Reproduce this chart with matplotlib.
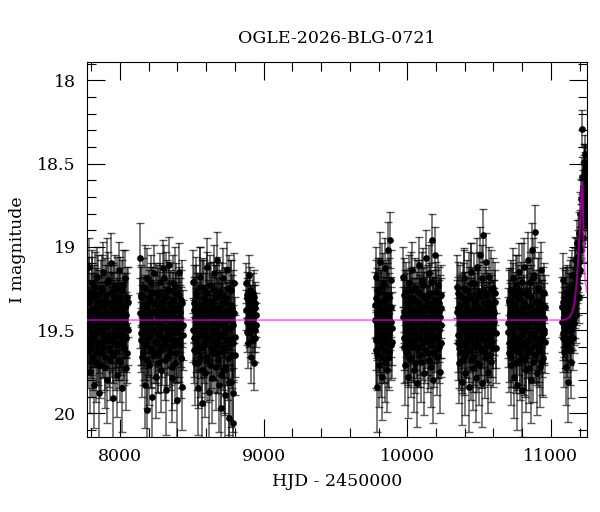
import matplotlib
matplotlib.use("Agg")
import matplotlib.pyplot as plt
from matplotlib.ticker import MultipleLocator

plt.rcParams['font.family'] = ['DejaVu Serif']

title = "OGLE-2026-BLG-0721"

# season 1 (two frames per night: mag_1 and mag_1b share times and errors)
hjd_1 = [7772, 7777, 7781, 7786, 7790, 7795, 7799, 7804, 7808, 7812,
         7817, 7821, 7826, 7830, 7835, 7839, 7843, 7848, 7852, 7857,
         7861, 7866, 7870, 7874, 7879, 7883, 7888, 7892, 7897, 7901,
         7905, 7910, 7914, 7919, 7923, 7928, 7932, 7936, 7941, 7945,
         7950, 7954, 7959, 7963, 7967, 7972, 7976, 7981, 7985, 7990,
         7994, 7998, 8003, 8007, 8012, 8016, 8021, 8025, 8030, 8034,
         8039, 8043, 8048, 8052]
mag_1 = [19.31, 19.62, 19.12, 19.48, 19.75, 19.39, 19.55, 19.22, 19.66, 19.44,
         19.83, 19.28, 19.51, 19.37, 19.70, 19.18, 19.46, 19.59, 19.33, 19.88,
         19.41, 19.25, 19.64, 19.50, 19.15, 19.57, 19.36, 19.72, 19.43, 19.29,
         19.53, 19.80, 19.20, 19.47, 19.61, 19.34, 19.68, 19.10, 19.45, 19.56,
         19.27, 19.91, 19.40, 19.63, 19.23, 19.52, 19.38, 19.77, 19.49, 19.14,
         19.58, 19.32, 19.69, 19.42, 19.26, 19.85, 19.54, 19.35, 19.60, 19.19,
         19.47, 19.73, 19.30, 19.50]
mag_1b = [19.45, 19.33, 19.58, 19.27, 19.49, 19.61, 19.38, 19.52, 19.30, 19.67,
          19.42, 19.55, 19.24, 19.47, 19.36, 19.63, 19.40, 19.29, 19.57, 19.44,
          19.71, 19.35, 19.50, 19.26, 19.60, 19.43, 19.53, 19.32, 19.66, 19.39,
          19.48, 19.21, 19.56, 19.41, 19.34, 19.62, 19.46, 19.28, 19.54, 19.37,
          19.65, 19.43, 19.31, 19.51, 19.40, 19.59, 19.25, 19.47, 19.35, 19.68,
          19.42, 19.53, 19.30, 19.57, 19.39, 19.48, 19.23, 19.61, 19.44, 19.36,
          19.55, 19.41, 19.64, 19.33]
err_1 = [0.19, 0.23, 0.17, 0.21, 0.25, 0.18, 0.22, 0.20, 0.24, 0.19,
         0.26, 0.17, 0.21, 0.20, 0.23, 0.18, 0.22, 0.24, 0.19, 0.27,
         0.20, 0.17, 0.23, 0.21, 0.18, 0.22, 0.19, 0.25, 0.20, 0.18,
         0.21, 0.26, 0.17, 0.20, 0.23, 0.19, 0.24, 0.18, 0.21, 0.22,
         0.17, 0.27, 0.20, 0.23, 0.18, 0.21, 0.19, 0.25, 0.20, 0.17,
         0.22, 0.19, 0.24, 0.20, 0.18, 0.26, 0.21, 0.19, 0.23, 0.17,
         0.20, 0.25, 0.18, 0.21]

# season 2
hjd_2 = [8139, 8144, 8148, 8153, 8158, 8162, 8167, 8172, 8177, 8181,
         8186, 8191, 8195, 8200, 8205, 8210, 8214, 8219, 8224, 8228,
         8233, 8238, 8243, 8247, 8252, 8257, 8261, 8266, 8271, 8276,
         8280, 8285, 8290, 8294, 8299, 8304, 8309, 8313, 8318, 8323,
         8327, 8332, 8337, 8342, 8346, 8351, 8356, 8360, 8365, 8370,
         8375, 8379, 8384, 8389, 8393, 8398, 8403, 8408, 8412, 8417,
         8422, 8426, 8431, 8436]
mag_2 = [19.07, 19.52, 19.30, 19.66, 19.41, 19.24, 19.58, 19.83, 19.36, 19.47,
         19.19, 19.98, 19.55, 19.33, 19.71, 19.44, 19.27, 19.62, 19.90, 19.39,
         19.50, 19.16, 19.57, 19.35, 19.78, 19.46, 19.29, 19.64, 19.42, 19.21,
         19.53, 19.74, 19.37, 19.60, 19.13, 19.48, 19.31, 19.68, 19.43, 19.86,
         19.26, 19.55, 19.40, 19.11, 19.63, 19.34, 19.51, 19.79, 19.45, 19.22,
         19.59, 19.38, 19.70, 19.28, 19.49, 19.92, 19.36, 19.15, 19.56, 19.43,
         19.67, 19.32, 19.84, 19.47]
mag_2b = [19.40, 19.56, 19.29, 19.47, 19.63, 19.35, 19.51, 19.25, 19.44, 19.59,
          19.37, 19.68, 19.42, 19.31, 19.54, 19.46, 19.22, 19.61, 19.39, 19.50,
          19.33, 19.65, 19.45, 19.28, 19.57, 19.41, 19.70, 19.36, 19.52, 19.27,
          19.48, 19.62, 19.34, 19.55, 19.43, 19.19, 19.58, 19.38, 19.49, 19.30,
          19.66, 19.44, 19.53, 19.26, 19.60, 19.40, 19.35, 19.72, 19.47, 19.32,
          19.56, 19.42, 19.24, 19.64, 19.37, 19.51, 19.45, 19.29, 19.59, 19.39,
          19.48, 19.67, 19.34, 19.53]
err_2 = [0.21, 0.19, 0.18, 0.24, 0.20, 0.17, 0.22, 0.26, 0.19, 0.21,
         0.18, 0.29, 0.22, 0.19, 0.24, 0.20, 0.17, 0.23, 0.27, 0.19,
         0.21, 0.17, 0.22, 0.18, 0.25, 0.20, 0.18, 0.23, 0.20, 0.17,
         0.21, 0.25, 0.19, 0.23, 0.17, 0.20, 0.18, 0.24, 0.19, 0.27,
         0.18, 0.22, 0.20, 0.17, 0.23, 0.19, 0.21, 0.26, 0.20, 0.17,
         0.22, 0.19, 0.24, 0.18, 0.21, 0.30, 0.19, 0.17, 0.22, 0.20,
         0.24, 0.18, 0.26, 0.21]

# season 3
hjd_3 = [8508, 8513, 8517, 8522, 8527, 8531, 8536, 8540, 8545, 8550,
         8554, 8559, 8563, 8568, 8573, 8577, 8582, 8586, 8591, 8596,
         8600, 8605, 8609, 8614, 8619, 8623, 8628, 8632, 8637, 8642,
         8646, 8651, 8655, 8660, 8665, 8669, 8674, 8678, 8683, 8688,
         8692, 8697, 8701, 8706, 8711, 8715, 8720, 8724, 8729, 8734,
         8738, 8743, 8747, 8752, 8757, 8761, 8766, 8770, 8775, 8780,
         8784, 8789, 8793, 8798]
mag_3 = [19.21, 19.55, 19.38, 19.70, 19.46, 19.29, 19.62, 19.85, 19.41, 19.52,
         19.18, 19.66, 19.35, 19.94, 19.48, 19.25, 19.59, 19.43, 19.76, 19.32,
         19.54, 19.12, 19.68, 19.40, 19.87, 19.47, 19.23, 19.61, 19.36, 19.79,
         19.44, 19.16, 19.57, 19.30, 19.72, 19.50, 19.08, 19.64, 19.39, 19.83,
         19.27, 19.53, 19.42, 19.97, 19.34, 19.60, 19.19, 19.74, 19.45, 19.89,
         19.31, 19.56, 19.14, 19.67, 19.41, 20.03, 19.49, 19.26, 19.81, 19.37,
         20.06, 19.58, 19.22, 19.65]
mag_3b = [19.50, 19.34, 19.62, 19.43, 19.27, 19.57, 19.40, 19.69, 19.36, 19.53,
          19.46, 19.24, 19.60, 19.38, 19.74, 19.44, 19.31, 19.58, 19.49, 19.35,
          19.66, 19.42, 19.28, 19.55, 19.39, 19.71, 19.47, 19.33, 19.61, 19.45,
          19.52, 19.26, 19.64, 19.41, 19.37, 19.59, 19.48, 19.30, 19.68, 19.43,
          19.55, 19.36, 19.77, 19.46, 19.29, 19.63, 19.40, 19.52, 19.34, 19.72,
          19.44, 19.60, 19.38, 19.49, 19.25, 19.81, 19.42, 19.56, 19.35, 19.65,
          19.47, 19.88, 19.40, 19.54]
err_3 = [0.19, 0.23, 0.20, 0.25, 0.21, 0.18, 0.24, 0.28, 0.20, 0.22,
         0.18, 0.24, 0.19, 0.30, 0.21, 0.18, 0.23, 0.20, 0.26, 0.19,
         0.22, 0.17, 0.25, 0.20, 0.29, 0.21, 0.18, 0.24, 0.19, 0.27,
         0.20, 0.17, 0.23, 0.19, 0.26, 0.21, 0.17, 0.24, 0.20, 0.28,
         0.18, 0.22, 0.20, 0.31, 0.19, 0.23, 0.18, 0.26, 0.21, 0.29,
         0.19, 0.23, 0.17, 0.25, 0.20, 0.32, 0.22, 0.18, 0.27, 0.20,
         0.33, 0.23, 0.18, 0.24]

# season 4 (short)
hjd_4 = [8878, 8882, 8887, 8891, 8896, 8900, 8905, 8909, 8914, 8918,
         8923, 8927, 8932, 8937, 8942, 8946]
mag_4 = [19.22, 19.45, 19.31, 19.58, 19.40, 19.17, 19.52, 19.36, 19.66, 19.44,
         19.28, 19.49, 19.70, 19.34, 19.55, 19.41]
mag_4b = [19.38, 19.29, 19.51, 19.43, 19.33, 19.48, 19.26, 19.45, 19.39, 19.56,
          19.35, 19.42, 19.30, 19.50, 19.37, 19.47]
err_4 = [0.12, 0.14, 0.12, 0.15, 0.13, 0.12, 0.14, 0.13, 0.16, 0.13,
         0.12, 0.14, 0.16, 0.13, 0.14, 0.13]

# season 5
hjd_5 = [9776, 9780, 9784, 9788, 9792, 9796, 9800, 9804, 9808, 9812,
         9816, 9820, 9824, 9828, 9832, 9836, 9840, 9844, 9848, 9852,
         9856, 9860, 9864, 9868, 9872, 9876, 9880, 9884, 9888, 9892]
mag_5 = [19.35, 19.62, 19.18, 19.84, 19.47, 19.26, 19.71, 19.40, 19.55, 19.09,
         19.66, 19.33, 19.78, 19.44, 19.22, 19.58, 19.38, 19.13, 19.69, 19.49,
         19.29, 19.74, 19.02, 19.52, 19.36, 19.63, 18.96, 19.45, 19.20, 19.57]
mag_5b = [19.44, 19.31, 19.56, 19.40, 19.65, 19.35, 19.50, 19.27, 19.60, 19.43,
          19.38, 19.53, 19.24, 19.58, 19.46, 19.33, 19.62, 19.41, 19.48, 19.29,
          19.55, 19.37, 19.67, 19.42, 19.51, 19.30, 19.45, 19.59, 19.36, 19.49]
err_5 = [0.20, 0.23, 0.18, 0.27, 0.21, 0.19, 0.25, 0.20, 0.22, 0.18,
         0.24, 0.19, 0.26, 0.21, 0.18, 0.23, 0.20, 0.18, 0.24, 0.21,
         0.19, 0.25, 0.17, 0.22, 0.20, 0.23, 0.17, 0.21, 0.18, 0.22]

# season 6
hjd_6 = [9969, 9975, 9980, 9984, 9989, 9993, 9998, 10002, 10007, 10011,
         10016, 10020, 10025, 10029, 10034, 10038, 10043, 10047, 10052, 10056,
         10061, 10065, 10070, 10074, 10079, 10083, 10088, 10092, 10097, 10101,
         10106, 10110, 10115, 10119, 10124, 10128, 10133, 10137, 10142, 10146,
         10151, 10155, 10160, 10164, 10169, 10173, 10178, 10182, 10187, 10191,
         10196, 10200, 10205, 10209, 10214, 10218, 10223, 10227, 10232, 10237]
mag_6 = [19.18, 19.60, 19.39, 19.71, 19.27, 19.50, 19.35, 19.78, 19.44, 19.22,
         19.56, 19.31, 19.67, 19.47, 19.14, 19.59, 19.38, 19.74, 19.42, 19.25,
         19.53, 19.82, 19.33, 19.61, 19.46, 19.11, 19.55, 19.36, 19.69, 19.41,
         19.20, 19.58, 19.30, 19.76, 19.48, 19.07, 19.52, 19.34, 19.64, 19.43,
         19.16, 19.57, 19.28, 19.72, 18.96, 19.49, 19.37, 19.80, 19.40, 19.05,
         19.54, 19.32, 19.66, 19.45, 19.23, 19.60, 19.39, 19.75, 19.47, 19.29]
mag_6b = [19.42, 19.29, 19.55, 19.38, 19.63, 19.45, 19.33, 19.58, 19.40, 19.67,
          19.36, 19.51, 19.26, 19.60, 19.43, 19.48, 19.31, 19.56, 19.39, 19.70,
          19.44, 19.34, 19.61, 19.47, 19.28, 19.53, 19.41, 19.65, 19.37, 19.50,
          19.45, 19.23, 19.57, 19.40, 19.62, 19.35, 19.49, 19.30, 19.54, 19.43,
          19.68, 19.38, 19.52, 19.21, 19.46, 19.59, 19.33, 19.44, 19.64, 19.36,
          19.48, 19.27, 19.56, 19.41, 19.61, 19.34, 19.50, 19.42, 19.58, 19.37]
err_6 = [0.18, 0.22, 0.19, 0.24, 0.18, 0.21, 0.19, 0.25, 0.20, 0.17,
         0.22, 0.18, 0.23, 0.20, 0.17, 0.22, 0.19, 0.25, 0.20, 0.18,
         0.21, 0.26, 0.18, 0.23, 0.20, 0.17, 0.22, 0.19, 0.24, 0.20,
         0.17, 0.22, 0.18, 0.25, 0.20, 0.17, 0.21, 0.19, 0.23, 0.20,
         0.17, 0.22, 0.18, 0.24, 0.16, 0.21, 0.19, 0.26, 0.20, 0.17,
         0.21, 0.18, 0.23, 0.20, 0.18, 0.22, 0.19, 0.25, 0.20, 0.18]

# season 7
hjd_7 = [10345, 10351, 10356, 10360, 10365, 10369, 10374, 10378, 10383, 10387,
         10392, 10396, 10401, 10405, 10410, 10414, 10419, 10423, 10428, 10432,
         10437, 10441, 10446, 10450, 10455, 10459, 10464, 10468, 10473, 10477,
         10482, 10486, 10491, 10495, 10500, 10504, 10509, 10513, 10518, 10522,
         10527, 10531, 10536, 10540, 10545, 10549, 10554, 10558, 10563, 10567,
         10572, 10576, 10581, 10585, 10590, 10594, 10599, 10604, 10611, 10620]
mag_7 = [19.24, 19.58, 19.37, 19.70, 19.45, 19.29, 19.63, 19.81, 19.40, 19.52,
         19.19, 19.66, 19.34, 19.76, 19.48, 19.26, 19.57, 19.42, 19.84, 19.31,
         19.54, 19.15, 19.68, 19.39, 19.73, 19.46, 19.22, 19.60, 19.35, 19.79,
         19.43, 19.12, 19.55, 19.30, 19.71, 19.49, 19.05, 19.62, 19.38, 19.82,
         18.93, 19.51, 19.27, 19.67, 19.44, 19.09, 19.59, 19.33, 19.75, 19.41,
         19.18, 19.56, 19.36, 19.69, 19.47, 19.25, 19.61, 19.40, 19.28, 19.52]
mag_7b = [19.39, 19.53, 19.28, 19.61, 19.44, 19.35, 19.57, 19.42, 19.68, 19.31,
          19.49, 19.25, 19.59, 19.40, 19.64, 19.37, 19.52, 19.46, 19.30, 19.62,
          19.43, 19.55, 19.22, 19.48, 19.38, 19.66, 19.41, 19.51, 19.33, 19.58,
          19.45, 19.70, 19.36, 19.50, 19.27, 19.60, 19.42, 19.54, 19.19, 19.47,
          19.39, 19.63, 19.34, 19.56, 19.44, 19.29, 19.59, 19.40, 19.52, 19.36,
          19.65, 19.43, 19.48, 19.26, 19.57, 19.38, 19.50, 19.45, 19.33, 19.61]
err_7 = [0.19, 0.22, 0.19, 0.24, 0.20, 0.18, 0.23, 0.26, 0.20, 0.21,
         0.18, 0.23, 0.19, 0.25, 0.21, 0.18, 0.22, 0.20, 0.27, 0.19,
         0.21, 0.17, 0.24, 0.20, 0.25, 0.21, 0.18, 0.23, 0.19, 0.26,
         0.20, 0.17, 0.22, 0.19, 0.24, 0.21, 0.17, 0.23, 0.20, 0.26,
         0.16, 0.21, 0.18, 0.24, 0.20, 0.17, 0.22, 0.19, 0.25, 0.20,
         0.18, 0.22, 0.19, 0.24, 0.21, 0.18, 0.23, 0.20, 0.19, 0.21]

# season 8
hjd_8 = [10700, 10706, 10711, 10715, 10720, 10724, 10728, 10733, 10737, 10741,
         10746, 10750, 10754, 10759, 10763, 10767, 10772, 10776, 10780, 10785,
         10789, 10793, 10798, 10802, 10806, 10811, 10815, 10819, 10824, 10828,
         10832, 10837, 10841, 10845, 10850, 10854, 10858, 10863, 10867, 10871,
         10876, 10880, 10884, 10889, 10893, 10897, 10902, 10906, 10910, 10915,
         10919, 10923, 10928, 10932, 10936, 10941, 10945, 10949, 10954, 10958]
mag_8 = [19.51, 19.33, 19.64, 19.42, 19.26, 19.71, 19.47, 19.19, 19.58, 19.36,
         19.78, 19.44, 19.23, 19.62, 19.39, 19.83, 19.30, 19.55, 19.15, 19.68,
         19.45, 19.27, 19.60, 19.86, 19.37, 19.52, 19.12, 19.66, 19.41, 19.74,
         19.29, 19.57, 19.08, 19.63, 19.46, 19.21, 19.80, 19.35, 19.54, 19.02,
         19.69, 19.43, 19.17, 18.91, 19.59, 19.38, 19.76, 19.48, 19.25, 19.61,
         19.33, 19.72, 19.44, 19.14, 19.56, 19.40, 19.67, 19.28, 19.50, 19.36]
mag_8b = [19.46, 19.32, 19.58, 19.40, 19.66, 19.37, 19.51, 19.28, 19.62, 19.43,
          19.55, 19.35, 19.70, 19.44, 19.25, 19.59, 19.41, 19.49, 19.31, 19.64,
          19.38, 19.53, 19.21, 19.57, 19.45, 19.68, 19.34, 19.50, 19.42, 19.61,
          19.27, 19.47, 19.56, 19.36, 19.73, 19.40, 19.52, 19.30, 19.60, 19.44,
          19.19, 19.54, 19.39, 19.65, 19.46, 19.33, 19.58, 19.42, 19.50, 19.26,
          19.62, 19.41, 19.55, 19.37, 19.48, 19.69, 19.35, 19.52, 19.43, 19.57]
err_8 = [0.21, 0.19, 0.23, 0.20, 0.18, 0.24, 0.21, 0.18, 0.22, 0.19,
         0.25, 0.20, 0.18, 0.23, 0.20, 0.27, 0.19, 0.22, 0.17, 0.24,
         0.20, 0.18, 0.23, 0.28, 0.19, 0.21, 0.17, 0.24, 0.20, 0.25,
         0.18, 0.22, 0.17, 0.23, 0.21, 0.18, 0.26, 0.19, 0.22, 0.16,
         0.24, 0.20, 0.17, 0.16, 0.22, 0.19, 0.25, 0.21, 0.18, 0.23,
         0.19, 0.24, 0.20, 0.17, 0.22, 0.20, 0.23, 0.18, 0.21, 0.19]

# season 9 (the event)
hjd_9 = [11078, 11082, 11086, 11090, 11094, 11098, 11102, 11106, 11110, 11114,
         11118, 11122, 11126, 11130, 11134, 11138, 11142, 11146, 11150, 11154,
         11158, 11162, 11166, 11170, 11174, 11178, 11182, 11186, 11190, 11194,
         11198, 11202, 11206, 11210, 11213, 11216, 11219, 11222, 11224, 11226,
         11228, 11230, 11232, 11234, 11236, 11238, 11240, 11242, 11244, 11246]
mag_9 = [19.36, 19.20, 19.55, 19.42, 19.63, 19.31, 19.49, 19.72, 19.27, 19.58,
         19.40, 19.81, 19.33, 19.62, 19.24, 19.50, 19.69, 19.17, 19.44, 19.55,
         19.29, 19.46, 19.08, 19.38, 19.22, 19.41, 18.98, 19.25, 19.12, 19.30,
         18.92, 19.14, 18.80, 19.02, 18.71, 18.29, 18.58, 18.83, 18.66, 18.95,
         18.49, 18.74, 18.61, 18.87, 18.44, 18.70, 18.55, 18.82, 18.60, 18.76]
mag_9b = [19.45, 19.52, 19.33, 19.48, 19.39, 19.56, 19.41, 19.35, 19.59, 19.44,
          19.30, 19.50, 19.46, 19.37, 19.55, 19.42, 19.28, 19.47, 19.36, 19.31,
          19.43, 19.26, 19.35, 19.18, 19.32, 19.12, 19.20, 19.06, 19.17, 19.00,
          19.09, 18.93, 19.01, 18.88, 18.95, 18.79, 18.86, 18.70, 18.78, 18.64,
          18.74, 18.58, 18.69, 18.53, 18.66, 18.50, 18.62, 18.57, 18.68, 18.52]
err_9 = [0.18, 0.16, 0.20, 0.18, 0.21, 0.17, 0.19, 0.23, 0.16, 0.20,
         0.18, 0.24, 0.17, 0.21, 0.16, 0.19, 0.22, 0.15, 0.18, 0.19,
         0.16, 0.18, 0.14, 0.17, 0.15, 0.17, 0.14, 0.16, 0.15, 0.16,
         0.13, 0.15, 0.13, 0.14, 0.12, 0.11, 0.12, 0.13, 0.12, 0.14,
         0.11, 0.13, 0.12, 0.13, 0.11, 0.12, 0.12, 0.13, 0.12, 0.13]

# model curve
model_hjd = [7770, 11080, 11110, 11130, 11150, 11165, 11178, 11188, 11197, 11205,
             11211, 11215, 11218, 11221, 11224, 11228, 11233, 11240, 11250]
model_mag = [19.44, 19.44, 19.435, 19.42, 19.39, 19.33, 19.23, 19.10, 18.96, 18.82,
             18.70, 18.63, 18.61, 18.66, 18.80, 18.98, 19.12, 19.21, 19.27]

seasons = [(hjd_1, mag_1, mag_1b, err_1), (hjd_2, mag_2, mag_2b, err_2),
           (hjd_3, mag_3, mag_3b, err_3), (hjd_4, mag_4, mag_4b, err_4),
           (hjd_5, mag_5, mag_5b, err_5), (hjd_6, mag_6, mag_6b, err_6),
           (hjd_7, mag_7, mag_7b, err_7), (hjd_8, mag_8, mag_8b, err_8),
           (hjd_9, mag_9, mag_9b, err_9)]

fig = plt.figure(figsize=(6, 5.12), dpi=100)
ax = fig.add_axes([0.145, 0.1465, 0.833, 0.7325])

for t, ma, mb, e in seasons:
    for m in (ma, mb):
        ax.errorbar(t, m, yerr=e, fmt='o', color='black', ms=3.8,
                    ecolor=(0, 0, 0, 0.65), elinewidth=1.1, capsize=2.8,
                    capthick=1.0, zorder=2)

ax.plot(model_hjd, model_mag, color='magenta', alpha=0.55, lw=1.4, zorder=3)

ax.set_xlim(7770, 11250)
ax.set_ylim(20.142, 17.89)

ax.xaxis.set_major_locator(MultipleLocator(1000))
ax.xaxis.set_minor_locator(MultipleLocator(200))
ax.yaxis.set_major_locator(MultipleLocator(0.5))
ax.yaxis.set_minor_locator(MultipleLocator(0.1))
ax.yaxis.set_major_formatter(plt.FuncFormatter(lambda v, p: f"{v:g}"))
ax.tick_params(which='both', direction='in', top=True, right=True, width=0.8)
ax.tick_params(which='major', length=13, labelsize=12.5, pad=8)
ax.tick_params(which='minor', length=6.5)

ax.set_title(title, fontsize=12.5, pad=14)
ax.set_xlabel("HJD - 2450000", fontsize=12.5, labelpad=6)
ax.set_ylabel("I magnitude", fontsize=12.5, labelpad=8)

fig.savefig("out.png", dpi=100)
